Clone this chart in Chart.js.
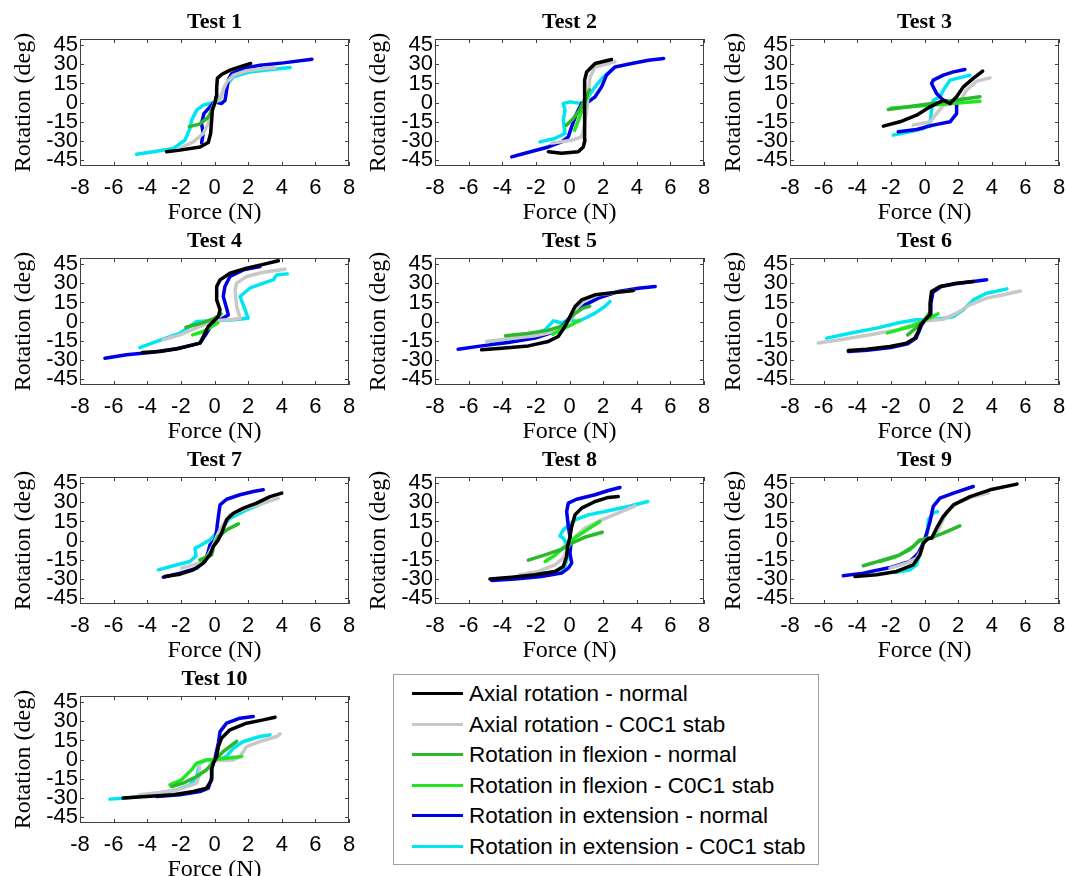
<!DOCTYPE html>
<html>
<head>
<meta charset="utf-8">
<script src="https://cdn.jsdelivr.net/npm/chart.js@4.4.1/dist/chart.umd.min.js"></script>
<style>
html, body { margin: 0; padding: 0; background: #fff; overflow: hidden; }
#page { position: relative; width: 1067px; height: 876px; }
#page canvas { position: absolute; }
#legend { position: absolute; left: 393px; top: 674px; width: 426px; height: 191px; box-sizing: border-box;
  border: 1px solid #a0a0a0; background: #fff; font-family: 'Liberation Sans', Arial, sans-serif; font-size: 22.5px; color: #000; }
.item { position: absolute; left: 0; height: 30px; width: 100%; }
.swatch { position: absolute; left: 18px; top: 13px; width: 51px; height: 3px; }
.label { position: absolute; left: 75px; top: 0; line-height: 30px; white-space: nowrap; }
</style>
</head>
<body>
<div id="page"><div id="legend"></div></div>
<script>
const XTICKS = [-8, -6, -4, -2, 0, 2, 4, 6, 8];
const YTICKS = [-45, -30, -15, 0, 15, 30, 45];
const SERIES = ['Axial rotation - normal', 'Axial rotation - C0C1 stab', 'Rotation in flexion - normal',
  'Rotation in flexion - C0C1 stab', 'Rotation in extension - normal', 'Rotation in extension - C0C1 stab'];
const COLORS = ['#000000', '#c8c8c8', '#2cb82c', '#22e622', '#0000e6', '#00e6f0'];
const LAYER = [0, 3, 1, 2, 4, 5]; // lower = drawn on top

// [force (N), rotation (deg)]
const t1AxN = [[-2.85,-38.8],[-2.05,-37.5],[-0.86,-35],[-0.37,-31.5],[-0.23,-24.4],[-0.17,-14],[-0.13,-6],[0.05,1],[0.09,4.5],[0.13,12],[0.17,19],[0.42,22],[0.92,25.5],[1.5,28],[2.15,30.7]];
const t1AxS = [[-2.05,-36],[-1.26,-31],[-0.67,-24.4],[-0.37,-16.5],[-0.17,-6],[0,0],[0.33,2],[0.52,10],[0.72,16],[1.12,21.5],[1.9,25],[2.9,26.8],[3.6,27.3]];
const t1FlN = [[-1.5,-19],[-0.9,-17],[-0.4,-12],[-0.1,-5],[0.1,2]];
const t1FlS = [];
const t1ExN = [[-0.77,-31.8],[-0.67,-24.4],[-0.77,-16.5],[-0.63,-8.7],[-0.27,-3.4],[0,0.5],[0.42,-0.8],[0.63,1.8],[0.72,9.7],[0.82,17.6],[1.02,22.8],[1.72,26.8],[2.71,29.4],[4.1,31.2],[5.8,34]];
const t1ExS = [[-4.63,-40.7],[-3.64,-38.8],[-2.45,-36.2],[-1.76,-29.7],[-1.46,-20.5],[-1.36,-13.9],[-1.06,-6],[-0.67,-2.1],[-0.27,-0.8],[0.13,0.5],[0.33,3.1],[0.62,12.3],[1.12,20.2],[2.1,24.1],[3.5,26.2],[4.5,27.6]];

const t2AxN = [[-1.26,-38.8],[-0.47,-40],[0.52,-38.8],[0.82,-35],[0.92,-29.7],[0.92,-19],[0.88,-6],[0.88,7],[0.92,17.6],[1.02,24],[1.52,30.7],[2.5,33.9]];
const t2AxS = [[-1.06,-32],[0.13,-29.7],[0.72,-27],[0.88,-19],[1.02,-6],[1.12,7],[1.22,20],[1.52,28],[2.7,32]];
const t2FlN = [[-0.2,-18],[0.2,-13],[0.6,-6],[0.9,2],[1.2,10]];
const t2FlS = [[0.3,-22],[0.5,-15],[0.7,-8],[0.9,-1],[1.1,5]];
const t2ExN = [[-3.44,-42.8],[-2.65,-40],[-1.26,-35],[-0.47,-31],[-0.07,-27],[0.13,-19],[0.42,-8.7],[0.72,-0.8],[1.12,0.5],[1.52,4.5],[1.91,12.3],[2.2,21.5],[2.7,28],[3.7,30.7],[4.7,33.3],[5.6,34.6]];
const t2ExS = [[-1.76,-31],[-0.87,-28.3],[-0.27,-24.4],[-0.37,-14],[-0.27,-6],[-0.37,-0.8],[0.03,0.5],[0.72,-0.8],[1.12,4.5],[1.52,12.3],[2.0,20],[2.6,26.8]];

const t3AxN = [[-2.45,-18.6],[-1.46,-15.2],[-0.47,-10],[0.33,-3.4],[1.12,1.8],[1.52,-0.8],[1.91,4.5],[2.31,12.3],[2.9,19],[3.46,24.7]];
const t3AxS = [[-0.67,-17.8],[0.33,-15.2],[0.72,-8.7],[1.12,-2.1],[2.1,0.5],[2.5,9.7],[3.1,16.8],[3.9,19.4]];
const t3FlN = [[-2.15,-5.5],[0,-1.5],[3.3,4.5]];
const t3FlS = [[-2.0,-4.5],[0.5,-2],[3.3,1]];
const t3ExN = [[-1.56,-23.1],[-0.47,-21.3],[0.52,-17.8],[1.52,-15.2],[1.91,-8.7],[1.91,-0.8],[1.12,1.8],[0.72,7],[0.42,15],[0.52,17.6],[1.12,21.5],[1.72,24.1],[2.4,26]];
const t3ExS = [[-1.86,-25.7],[-0.87,-23.1],[-0.07,-20.5],[0.33,-16.5],[0.42,-6],[0.52,1.8],[0.92,4.5],[1.12,9.7],[1.52,17.6],[2.3,20.2],[2.7,21.5]];

const t4AxN = [[-4.28,-24.4],[-3.24,-23.6],[-2.05,-21],[-0.86,-17],[-0.57,-9.2],[-0.37,-3.9],[-0.07,0],[0.23,3.9],[0.33,9.2],[0.13,17],[0.13,27.6],[0.33,32.8],[0.92,38],[1.91,42],[2.9,45],[3.8,47.8]];
const t4AxS = [[-3.05,-14.4],[-2.05,-10.5],[-0.86,-3.9],[-0.07,0.5],[1.12,1.8],[1.52,2.6],[1.32,11.8],[1.22,24.9],[1.32,30.2],[1.91,35.4],[2.9,38.8],[4.2,41.2]];
const t4FlN = [[-1.7,-4.5],[-0.8,-1.5],[0,2.5],[0.4,6]];
const t4FlS = [[-1.3,-10.5],[-0.8,-8.5],[-0.4,-6],[0.2,-1]];
const t4ExN = [[-6.52,-28.9],[-5.23,-26.2],[-3.84,-24.4],[-2.25,-21.5],[-0.86,-17],[-0.47,-9.2],[-0.17,-2.6],[0.33,1.3],[0.82,5.2],[0.72,10.5],[0.52,19.7],[0.62,27.6],[0.92,35.4],[1.72,40.7],[2.71,43.3]];
const t4ExS = [[-4.44,-20.5],[-3.44,-15.7],[-2.05,-9.2],[-1.06,0],[-0.07,0.5],[1.12,1.3],[2.0,2.6],[1.82,9.2],[1.52,19.7],[2.1,26.2],[2.9,30.2],[3.5,32.8],[3.7,36.7],[4.33,37.5]];

const t5AxN = [[-5.23,-22.3],[-4.04,-21],[-2.45,-19.2],[-1.26,-15.7],[-0.67,-11.8],[-0.27,-3.9],[0.03,3.9],[0.33,11.8],[0.72,17],[1.52,21],[2.7,22.8],[3.8,24.4]];
const t5AxS = [[-4.93,-15.7],[-3.64,-13.6],[-2.05,-11.3],[-0.86,-7.9],[-0.27,-2.6],[0.13,2.6],[0.42,10.5],[0.92,17],[1.72,21],[2.9,23.1],[3.8,24.4]];
const t5FlN = [[-3.8,-11.3],[-2.5,-9.4],[-1.3,-7],[-0.4,-3.5],[0.3,6],[0.8,10.5],[1.2,12]];
const t5FlS = [[-1.0,-10],[-0.3,-5],[0.2,-2],[0.6,1]];
const t5ExN = [[-6.62,-21.8],[-5.23,-19.2],[-3.64,-16.5],[-2.05,-13.1],[-0.86,-7.9],[-0.27,-1.3],[0.33,7.9],[0.92,13.1],[1.72,18.4],[2.9,23.6],[4.1,26.2],[5.1,27.6]];
const t5ExS = [[-4.63,-17.6],[-3.64,-15.7],[-2.45,-11.8],[-1.46,-6.6],[-0.96,0.5],[-0.77,0],[-0.47,-1.3],[-0.07,1.3],[0.52,0],[0.92,2.6],[1.52,6.6],[2.1,11.8],[2.41,15.7]];

const t6AxN = [[-4.53,-22.8],[-3.44,-21.8],[-2.05,-19.7],[-1.06,-17],[-0.57,-13.1],[-0.37,-7.9],[-0.23,-2.6],[0.03,1.3],[0.33,5.2],[0.33,14.4],[0.42,23.6],[0.92,27.6],[1.91,30.2],[2.9,31.5]];
const t6AxS = [[-6.32,-17],[-4.83,-13.9],[-3.24,-10.5],[-1.66,-6.6],[-0.47,-1.3],[0.13,0.5],[1.12,1.8],[1.91,6.6],[2.7,13.1],[3.7,18.4],[4.7,21],[5.7,24]];
const t6FlN = [[-1.0,-10.5],[-0.5,-5],[0,1],[0.3,7]];
const t6FlS = [[-2.2,-9],[-0.7,-3.5],[0.2,2],[0.8,6]];
const t6ExN = [[-4.53,-23.6],[-3.4,-22.6],[-2.0,-20.5],[-1.0,-17.6],[-0.5,-13],[-0.3,-7],[-0.15,-2],[0.05,1],[0.35,5],[0.38,14],[0.5,23],[1.0,27.5],[2.0,30],[2.9,31.5],[3.7,32.8]];
const t6ExS = [[-5.82,-13.1],[-4.44,-9.2],[-2.85,-5.2],[-1.46,-0.8],[-0.47,1.3],[0.33,1.3],[1.12,2.6],[1.72,3.9],[2.31,9.2],[2.9,17],[3.7,22.3],[4.9,25.7]];

const t7AxN = [[-2.95,-28.3],[-2.05,-26.5],[-1.26,-23.1],[-0.67,-17.8],[-0.27,-11.3],[-0.07,-4.7],[0.23,0.5],[0.42,5.8],[0.72,16.3],[1.12,21.5],[1.72,25.5],[2.5,29.4],[3.3,34.6],[4.0,37.3]];
const t7AxS = [[-1.96,-21.8],[-1.26,-19.2],[-0.67,-16.5],[-0.37,-11.3],[-0.07,-3.4],[0.13,3.1],[0.42,11],[0.92,20.2],[1.91,25.5],[2.9,29.4],[3.8,33.3]];
const t7FlN = [[-0.87,-15.2],[-0.17,-11.3],[-0.07,-4.7],[0.23,3.1],[0.72,8.4],[1.42,13.1]];
const t7FlS = [[-0.8,-16],[-0.4,-12],[-0.1,-8]];
const t7ExN = [[-3.05,-28.9],[-2.05,-25.7],[-1.06,-21.8],[-0.57,-16.5],[-0.37,-8.7],[-0.27,-3.4],[0.03,0.5],[0.13,8.4],[0.23,18.9],[0.33,28.1],[0.72,32.5],[1.52,36],[2.31,38.6],[2.9,39.9]];
const t7ExS = [[-3.34,-23.1],[-2.45,-19.9],[-1.46,-16.5],[-1.1,-12.1],[-1.16,-6],[-0.87,-4.2],[-0.27,0.5],[-0.07,3.1],[0.33,8.4],[0.92,17.6],[1.91,24.1],[3.1,30.7]];

const t8AxN = [[-4.73,-30.4],[-3.44,-28.9],[-2.05,-27],[-0.86,-24.4],[-0.37,-20.5],[-0.17,-12.6],[-0.11,-4.7],[0.03,3.1],[0.13,11],[0.33,20.2],[0.72,25.5],[1.52,30.7],[2.31,33.9],[2.9,34.6]];
const t8AxS = [[-2.95,-27],[-1.86,-24.4],[-0.86,-19.2],[-0.37,-13.9],[-0.07,-4.7],[0.33,3.1],[0.92,9.7],[1.91,16.3],[3.1,22.8],[3.9,27.3]];
const t8FlN = [[-2.45,-15.5],[-1.5,-11.5],[-0.5,-7],[0.3,-1],[1.0,3],[1.95,6.5]];
const t8FlS = [[-1.45,-16.5],[-0.9,-12],[-0.3,-5],[0.3,2],[1.0,8],[1.8,15]];
const t8ExN = [[-4.63,-31.5],[-3.24,-30.4],[-1.66,-28.3],[-0.47,-25.7],[-0.07,-21.8],[0.13,-17.8],[0.03,-10],[0.09,-2],[-0.07,11],[-0.17,22.8],[-0.07,29.4],[0.42,32.5],[1.52,36],[2.31,39.4],[3.0,41.7]];
const t8ExS = [[-1.66,-25.7],[-0.67,-24.4],[-0.27,-20.5],[-0.11,-12.6],[-0.07,-4.7],[-0.37,1.8],[-0.57,3.7],[-0.37,8.4],[0.33,16.3],[1.12,20.2],[2.31,23.4],[3.5,26.8],[4.65,30.7]];

const t9AxN = [[-4.14,-28.3],[-2.85,-27],[-1.66,-24.4],[-0.67,-19.2],[-0.27,-11.3],[-0.07,-2.1],[0.23,1.8],[0.42,1.8],[0.72,9.7],[1.12,18.9],[1.72,28.1],[2.71,34.6],[3.9,39.9],[5.5,44.4]];
const t9AxS = [[-2.05,-21.8],[-1.06,-17.8],[-0.47,-13.9],[-0.17,-7.3],[0.03,0.5],[0.52,1.8],[0.92,11],[1.32,22.8],[1.91,29.4],[2.9,34.6],[3.8,37.3]];
const t9FlN = [[-3.64,-19.9],[-2.45,-15.2],[-1.46,-11.3],[-0.67,-4.7],[-0.27,0.5],[0.33,1.8],[1.12,5.8],[2.1,11.5]];
const t9FlS = [[-2.65,-16.5],[-1.66,-12.6],[-0.87,-7.3],[-0.37,-0.8],[0.13,1.8]];
const t9ExN = [[-4.83,-27.8],[-3.64,-25.7],[-2.05,-21.3],[-0.87,-16.5],[-0.37,-10],[-0.07,-2.1],[0.13,5.8],[0.33,15],[0.52,26.8],[0.92,33.3],[1.72,37.3],[2.9,42.5]];
const t9ExS = [[-1.76,-25.2],[-0.87,-23.1],[-0.47,-19.2],[-0.31,-11.3],[-0.07,-2.1],[0.17,5.8],[0.23,16.3],[0.52,21.5],[0.77,22.8]];

const t10AxN = [[-5.43,-30.4],[-4.04,-29.1],[-2.45,-27.8],[-1.26,-25.2],[-0.47,-22.6],[-0.17,-16],[-0.17,-8.1],[-0.07,-2.9],[0.13,2.4],[0.23,10.2],[0.42,16.8],[0.92,23.4],[1.91,28.6],[2.9,31.2],[3.6,33.3]];
const t10AxS = [[-4.44,-27.8],[-3.24,-26],[-2.05,-23.4],[-1.06,-18.6],[-0.87,-10.8],[-0.9,-2.9],[-0.67,-0.8],[0.13,-0.8],[1.12,-0.3],[1.52,2.4],[1.91,10.2],[2.71,14.2],[3.7,18.1],[3.9,20.2]];
const t10FlN = [[-2.55,-21.3],[-1.86,-18.6],[-1.06,-13.4],[-0.47,-8.1],[0.03,-0.3],[0.52,6.3],[1.32,14.2]];
const t10FlS = [[-2.65,-20],[-1.96,-16],[-1.36,-8.1],[-1.06,-2.9],[-0.47,-0.3],[0.72,1],[1.62,2.4]];
const t10ExN = [[-3.44,-29.1],[-2.05,-27.8],[-0.86,-25.2],[-0.37,-22.6],[-0.17,-14.7],[-0.17,-6.8],[0.03,1],[0.23,12.9],[0.33,22],[0.72,28.6],[1.52,32.5],[2.31,33.9]];
const t10ExS = [[-6.22,-31.2],[-5.23,-30.4],[-3.84,-27.8],[-2.25,-23.9],[-1.46,-19.9],[-1.06,-13.4],[-0.87,-2.9],[-0.47,-0.3],[0.13,-0.8],[0.72,2.4],[1.12,8.9],[1.72,14.2],[2.71,18.1],[3.3,19.4]];

const TESTS = [
  [t1AxN, t1AxS, t1FlN, t1FlS, t1ExN, t1ExS],
  [t2AxN, t2AxS, t2FlN, t2FlS, t2ExN, t2ExS],
  [t3AxN, t3AxS, t3FlN, t3FlS, t3ExN, t3ExS],
  [t4AxN, t4AxS, t4FlN, t4FlS, t4ExN, t4ExS],
  [t5AxN, t5AxS, t5FlN, t5FlS, t5ExN, t5ExS],
  [t6AxN, t6AxS, t6FlN, t6FlS, t6ExN, t6ExS],
  [t7AxN, t7AxS, t7FlN, t7FlS, t7ExN, t7ExS],
  [t8AxN, t8AxS, t8FlN, t8FlS, t8ExN, t8ExS],
  [t9AxN, t9AxS, t9FlN, t9FlS, t9ExN, t9ExS],
  [t10AxN, t10AxS, t10FlN, t10FlS, t10ExN, t10ExS]
];

const COL_X = [0, 355, 710];
const ROW_Y = [0, 219, 438, 657];
const SANS = "'Liberation Sans', Arial, sans-serif";
const SERIF = "'Liberation Serif', 'Times New Roman', serif";

// box with inward tick marks, like a MATLAB axes
const boxPlugin = {
  id: 'axesBox',
  afterDatasetsDraw(chart) {
    const { ctx, chartArea: a, scales: { x, y } } = chart;
    ctx.save();
    ctx.strokeStyle = '#404040';
    ctx.lineWidth = 1;
    ctx.beginPath();
    XTICKS.forEach(v => {
      const p = Math.round(x.getPixelForValue(v)) + 0.5;
      ctx.moveTo(p, a.bottom); ctx.lineTo(p, a.bottom - 4);
      ctx.moveTo(p, a.top); ctx.lineTo(p, a.top + 4);
    });
    YTICKS.forEach(v => {
      const p = Math.round(y.getPixelForValue(v)) + 0.5;
      ctx.moveTo(a.left, p); ctx.lineTo(a.left + 4, p);
      ctx.moveTo(a.right, p); ctx.lineTo(a.right - 4, p);
    });
    ctx.stroke();
    ctx.strokeRect(Math.round(a.left) + 0.5, Math.round(a.top) + 0.5, Math.round(a.width) - 1, Math.round(a.height) - 1);
    ctx.restore();
  }
};

const page = document.getElementById('page');

TESTS.forEach((series, i) => {
  const canvas = document.createElement('canvas');
  canvas.width = 355;
  canvas.height = 226;
  canvas.style.left = COL_X[i % 3] + 'px';
  canvas.style.top = ROW_Y[Math.floor(i / 3)] + 'px';
  page.appendChild(canvas);

  const datasets = series.map((pts, k) => ({
    label: SERIES[k],
    data: pts.map(p => ({ x: p[0], y: p[1] })),
    borderColor: COLORS[k],
    backgroundColor: COLORS[k],
    borderWidth: 3.5,
    borderCapStyle: 'round',
    borderJoinStyle: 'round',
    showLine: true,
    pointRadius: 0,
    fill: false,
    order: LAYER[k]
  }));

  new Chart(canvas, {
    type: 'scatter',
    data: { datasets },
    options: {
      responsive: false,
      animation: false,
      devicePixelRatio: 1,
      layout: { padding: { left: 0, right: 6, top: 0, bottom: 0 } },
      plugins: {
        legend: { display: false },
        tooltip: { enabled: false },
        title: {
          display: true,
          text: 'Test ' + (i + 1),
          fullSize: false,
          color: '#000',
          font: { family: SERIF, size: 22, weight: 'bold', lineHeight: 1 },
          padding: { top: 11.5, bottom: 5.5 }
        }
      },
      scales: {
        x: {
          type: 'linear',
          min: -8, max: 8,
          afterBuildTicks: s => { s.ticks = XTICKS.map(v => ({ value: v })); },
          afterFit: s => { s.height = 60; s.paddingLeft = 0; s.paddingRight = 0; },
          grid: { display: false, drawTicks: false },
          border: { display: false },
          ticks: { autoSkip: false, maxRotation: 0, padding: 9, color: '#000',
                   font: { family: SANS, size: 22 } },
          title: { display: true, text: 'Force (N)', color: '#000',
                   font: { family: SERIF, size: 24, lineHeight: 1 }, padding: { top: 0, bottom: 1.5 } }
        },
        y: {
          type: 'linear',
          min: -50, max: 50,
          afterBuildTicks: s => { s.ticks = YTICKS.map(v => ({ value: v })); },
          afterFit: s => { s.width = 80; s.paddingTop = 0; s.paddingBottom = 0; },
          grid: { display: false, drawTicks: false },
          border: { display: false },
          ticks: { autoSkip: false, padding: 2, color: '#000',
                   font: { family: SANS, size: 22 } },
          title: { display: true, text: 'Rotation (deg)', color: '#000',
                   font: { family: SERIF, size: 24, lineHeight: 1 }, padding: { top: 12, bottom: 0 } }
        }
      }
    },
    plugins: [boxPlugin]
  });
});

// legend box
const legend = document.getElementById('legend');
SERIES.forEach((name, k) => {
  const item = document.createElement('div');
  item.className = 'item';
  item.style.top = (4 + k * 30.6) + 'px';
  const sw = document.createElement('div');
  sw.className = 'swatch';
  sw.style.background = COLORS[k];
  const lab = document.createElement('div');
  lab.className = 'label';
  lab.textContent = name;
  item.appendChild(sw);
  item.appendChild(lab);
  legend.appendChild(item);
});
</script>
</body>
</html>
